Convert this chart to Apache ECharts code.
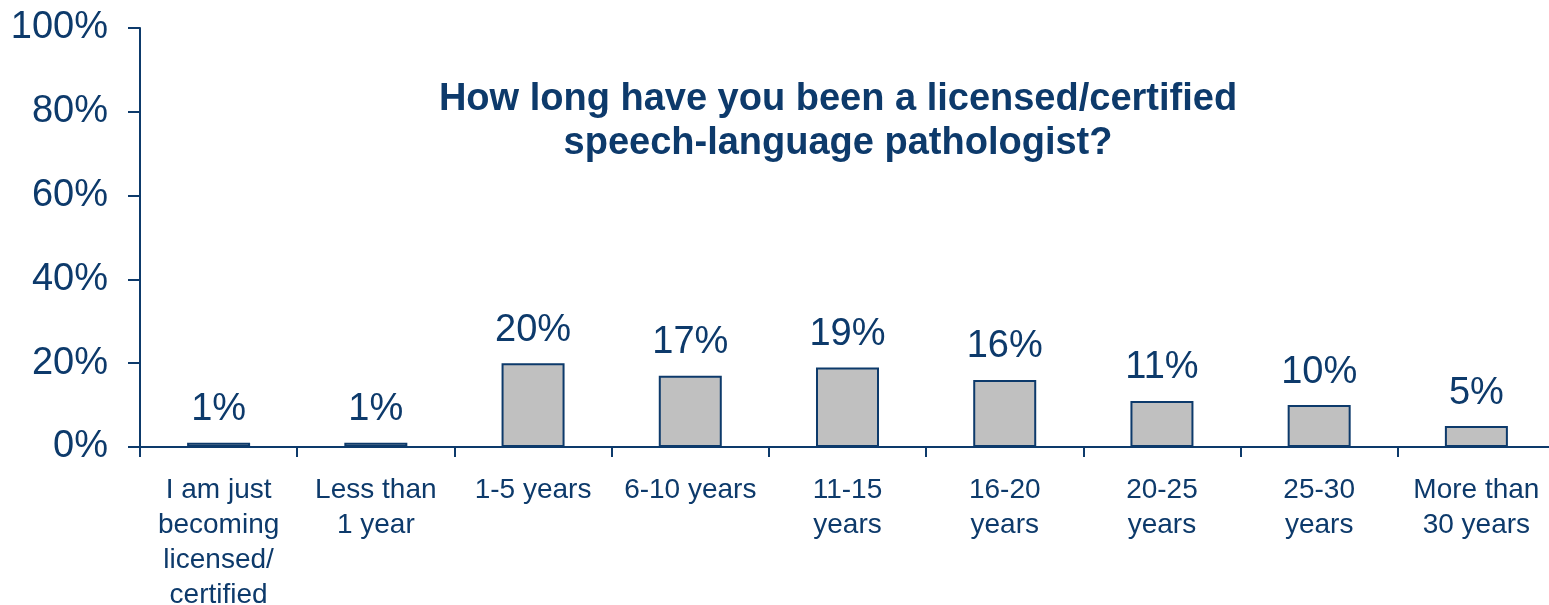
<!DOCTYPE html>
<html>
<head>
<meta charset="utf-8">
<script src="https://cdn.jsdelivr.net/npm/echarts@6/dist/echarts.min.js"></script>
<style>
  html, body { margin: 0; padding: 0; background: #fff; }
  #chart { width: 1549px; height: 605px; }
</style>
</head>
<body>
<div id="chart"></div>
<script>
const categories = [
  'I am just\nbecoming\nlicensed/\ncertified',
  'Less than\n1 year',
  '1-5 years',
  '6-10 years',
  '11-15\nyears',
  '16-20\nyears',
  '20-25\nyears',
  '25-30\nyears',
  'More than\n30 years'
];
const percents = [1, 1, 20, 17, 19, 16, 11, 10, 5];
const yTicks = [0, 20, 40, 60, 80, 100];

const navy = '#0d3a6b';
const font = '"Liberation Sans", Arial, sans-serif';
const chart = echarts.init(document.getElementById('chart'));

chart.setOption({
  animation: false,
  grid: { left: 140, top: 28, width: 1415, bottom: 158, outerBoundsMode: 'none', containLabel: false },
  graphic: [{
    type: 'text',
    left: 838 - 420, top: 78,
    style: {
      text: 'How long have you been a licensed/certified\nspeech-language pathologist?',
      x: 0, y: 0,
      width: 840,
      align: 'center',
      textAlign: 'center',
      fill: navy,
      font: 'bold 38px ' + font,
      lineHeight: 44
    }
  }],
  xAxis: {
    type: 'category',
    data: categories,
    axisLine: { lineStyle: { color: navy, width: 2 } },
    axisTick: { show: true, length: 10, alignWithLabel: false, lineStyle: { color: navy, width: 2 } },
    axisLabel: {
      interval: 0,
      color: navy,
      fontFamily: font,
      fontSize: 28,
      lineHeight: 35,
      margin: 26
    }
  },
  yAxis: {
    type: 'value',
    min: yTicks[0],
    max: yTicks[yTicks.length - 1],
    interval: 20,
    splitLine: { show: false },
    axisLine: { show: true, lineStyle: { color: navy, width: 2 } },
    axisTick: { show: true, length: 12, lineStyle: { color: navy, width: 2 } },
    axisLabel: {
      color: navy,
      fontFamily: font,
      fontSize: 38,
      margin: 32,
      formatter: '{value}%'
    }
  },
  series: [{
    type: 'bar',
    data: percents,
    barWidth: 63,
    itemStyle: { color: '#c0c0c0', borderColor: navy, borderWidth: 2 },
    label: {
      show: true,
      position: 'top',
      distance: 14,
      color: navy,
      fontFamily: font,
      fontSize: 38,
      formatter: '{c}%'
    }
  }]
});
</script>
</body>
</html>
